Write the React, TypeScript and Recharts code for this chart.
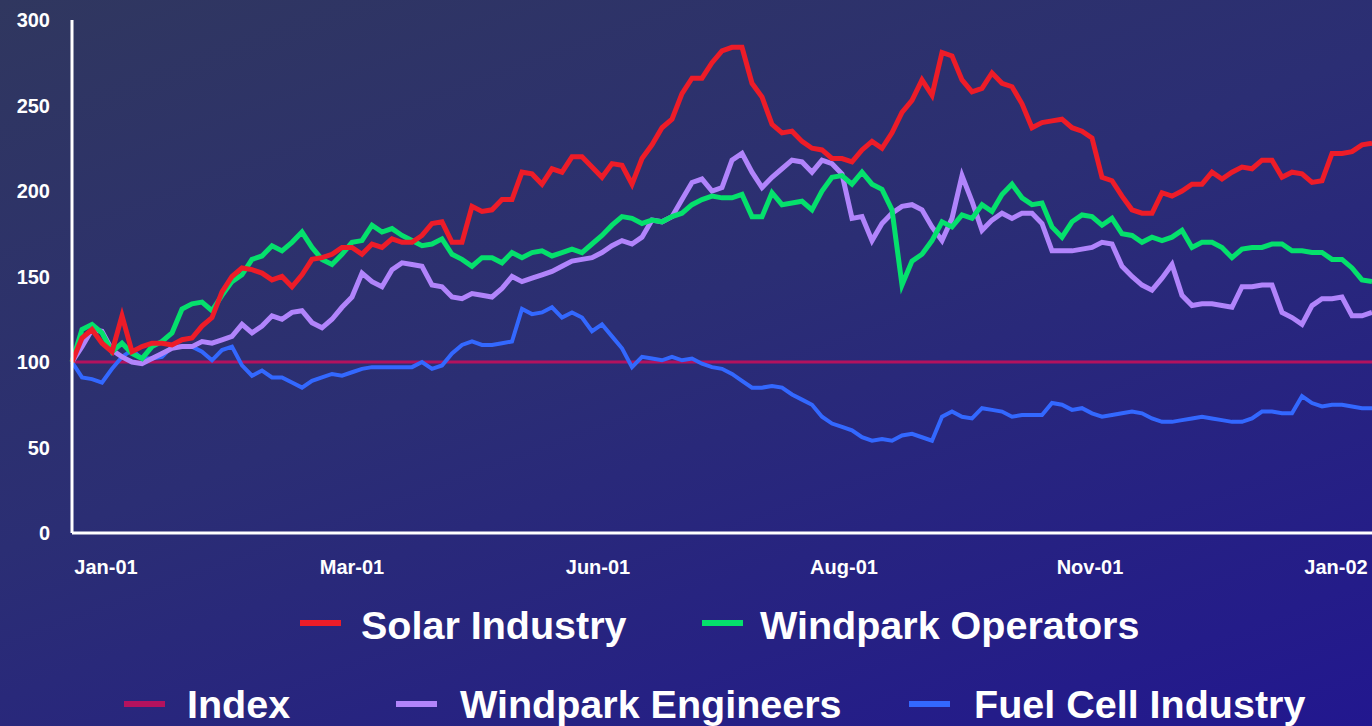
import { LineChart, Line, XAxis, YAxis } from "recharts";

// sampled roughly every 1/130 of the year (Jan-01 .. Jan-02), base 100
const solarIndustry = [
  100, 114, 119, 111, 106, 127, 106, 109, 111, 111,
  110, 113, 114, 121, 126, 141, 150, 155, 154, 152,
  148, 150, 144, 151, 160, 161, 163, 167, 167, 163,
  169, 167, 172, 170, 170, 174, 181, 182, 170, 170,
  191, 188, 189, 195, 195, 211, 210, 204, 213, 211,
  220, 220, 214, 208, 216, 215, 204, 219, 227, 237,
  242, 257, 266, 266, 275, 282, 284, 284, 263, 255,
  239, 234, 235, 229, 225, 224, 219, 219, 217, 224,
  229, 225, 234, 246, 253, 265, 256, 281, 279, 265,
  258, 260, 269, 263, 261, 251, 237, 240, 241, 242,
  237, 235, 231, 208, 206, 197, 189, 187, 187, 199,
  197, 200, 204, 204, 211, 207, 211, 214, 213, 218,
  218, 208, 211, 210, 205, 206, 222, 222, 223, 227,
  228,
];

const windparkOperators = [
  100, 119, 122, 117, 106, 111, 105, 102, 109, 112,
  117, 131, 134, 135, 130, 139, 147, 151, 160, 162,
  168, 165, 170, 176, 167, 160, 157, 163, 170, 171,
  180, 176, 178, 174, 171, 168, 169, 172, 163, 160,
  156, 161, 161, 158, 164, 161, 164, 165, 162, 164,
  166, 164, 169, 174, 180, 185, 184, 181, 183, 182,
  185, 187, 192, 195, 197, 196, 196, 198, 185, 185,
  199, 192, 193, 194, 189, 200, 208, 209, 204, 211,
  204, 201, 189, 145, 159, 163, 171, 182, 179, 186,
  184, 192, 188, 198, 204, 196, 192, 193, 179, 173,
  182, 186, 185, 180, 184, 175, 174, 170, 173, 171,
  173, 177, 167, 170, 170, 167, 161, 166, 167, 167,
  169, 169, 165, 165, 164, 164, 160, 160, 155, 148,
  147,
];

const windparkEngineers = [
  100, 109, 119, 118, 107, 103, 100, 99, 102, 105,
  108, 109, 109, 112, 111, 113, 115, 122, 117, 121,
  127, 125, 129, 130, 123, 120, 125, 132, 138, 152,
  147, 144, 154, 158, 157, 156, 145, 144, 138, 137,
  140, 139, 138, 143, 150, 147, 149, 151, 153, 156,
  159, 160, 161, 164, 168, 171, 169, 173, 183, 182,
  185, 195, 205, 207, 200, 202, 218, 222, 211, 202,
  208, 213, 218, 217, 211, 218, 216, 210, 184, 185,
  171, 181, 187, 191, 192, 189, 179, 171, 184, 209,
  194, 177, 183, 187, 184, 187, 187, 181, 165, 165,
  165, 166, 167, 170, 169, 156, 150, 145, 142, 149,
  157, 139, 133, 134, 134, 133, 132, 144, 144, 145,
  145, 129, 126, 122, 133, 137, 137, 138, 127, 127,
  129,
];

const fuelCellIndustry = [
  100, 91, 90, 88, 96, 103, 107, 102, 102, 103,
  109, 109, 109, 106, 101, 107, 109, 98, 92, 95,
  91, 91, 88, 85, 89, 91, 93, 92, 94, 96,
  97, 97, 97, 97, 97, 100, 96, 98, 105, 110,
  112, 110, 110, 111, 112, 131, 128, 129, 132, 126,
  129, 126, 118, 122, 115, 108, 97, 103, 102, 101,
  103, 101, 102, 99, 97, 96, 93, 89, 85, 85,
  86, 85, 81, 78, 75, 68, 64, 62, 60, 56,
  54, 55, 54, 57, 58, 56, 54, 68, 71, 68,
  67, 73, 72, 71, 68, 69, 69, 69, 76, 75,
  72, 73, 70, 68, 69, 70, 71, 70, 67, 65,
  65, 66, 67, 68, 67, 66, 65, 65, 67, 71,
  71, 70, 70, 80, 76, 74, 75, 75, 74, 73,
  73,
];

const indexLevel = 100;

const xTickLabels = ["Jan-01", "Mar-01", "Jun-01", "Aug-01", "Nov-01", "Jan-02"];
const yTicks = [0, 50, 100, 150, 200, 250, 300];

const FONT = '"Liberation Sans", Arial, Helvetica, sans-serif';

const data = solarIndustry.map((v, i) => ({
  day: i,
  solar: v,
  operators: windparkOperators[i],
  index: indexLevel,
  engineers: windparkEngineers[i],
  fuel: fuelCellIndustry[i],
}));

// label slots are evenly spaced along the category axis
const xTicks = xTickLabels.map((_, k) => 3.4 + k * 24.6);

// drawing order: first is at the bottom
const lines = [
  { key: "index", name: "Index", color: "#b3125e", width: 3 },
  { key: "fuel", name: "Fuel Cell Industry", color: "#3368ff", width: 4 },
  { key: "engineers", name: "Windpark Engineers", color: "#b184fb", width: 5 },
  { key: "operators", name: "Windpark Operators", color: "#05e06c", width: 5 },
  { key: "solar", name: "Solar Industry", color: "#ed1c28", width: 5 },
];

const legendItems = [
  { key: "solar", marker: 300, text: 361, row: 0 },
  { key: "operators", marker: 702, text: 760, row: 0 },
  { key: "index", marker: 124, text: 187, row: 1 },
  { key: "engineers", marker: 396, text: 460, row: 1 },
  { key: "fuel", marker: 909, text: 974, row: 1 },
];
const rowMarkerY = [623, 704];
const rowTextTop = [606, 685];

export default function App() {
  return (
    <div
      style={{
        position: "absolute",
        left: 0,
        top: 0,
        width: 1372,
        height: 726,
        overflow: "hidden",
        fontFamily: FONT,
        background: "linear-gradient(160deg, #30375f 0%, #2b2e74 45%, #22178f 100%)",
      }}
    >
      <LineChart width={1372} height={590} data={data} margin={{ top: 20, right: 0, bottom: 0, left: 0 }}>
        <XAxis
          dataKey="day"
          type="number"
          domain={[0, 130]}
          ticks={xTicks}
          tickFormatter={(v: number) => xTickLabels[xTicks.indexOf(v)] ?? ""}
          height={57}
          tickLine={false}
          tickSize={0}
          tickMargin={27}
          axisLine={{ stroke: "#ffffff", strokeWidth: 3 }}
          tick={{ fill: "#ffffff", fontSize: 20, fontWeight: 700, fontFamily: FONT }}
          interval={0}
        />
        <YAxis
          domain={[0, 300]}
          ticks={yTicks}
          width={72}
          tickLine={false}
          tickSize={0}
          tickMargin={22}
          axisLine={{ stroke: "#ffffff", strokeWidth: 3 }}
          tick={{ fill: "#ffffff", fontSize: 20, fontWeight: 700, fontFamily: FONT }}
          interval={0}
        />
        {lines.map((l) => (
          <Line
            key={l.key}
            dataKey={l.key}
            name={l.name}
            type="linear"
            stroke={l.color}
            strokeWidth={l.width}
            dot={false}
            activeDot={false}
            isAnimationActive={false}
          />
        ))}
      </LineChart>
      {legendItems.map((item) => {
        const l = lines.find((s) => s.key === item.key)!;
        return (
          <div key={item.key}>
            <div
              style={{
                position: "absolute",
                left: item.marker,
                top: rowMarkerY[item.row] - 3,
                width: 41,
                height: 6,
                background: l.color,
              }}
            />
            <div
              style={{
                position: "absolute",
                left: item.text,
                top: rowTextTop[item.row],
                fontSize: 39.5,
                lineHeight: 1,
                fontWeight: 700,
                color: "#ffffff",
                whiteSpace: "nowrap",
              }}
            >
              {l.name}
            </div>
          </div>
        );
      })}
    </div>
  );
}
